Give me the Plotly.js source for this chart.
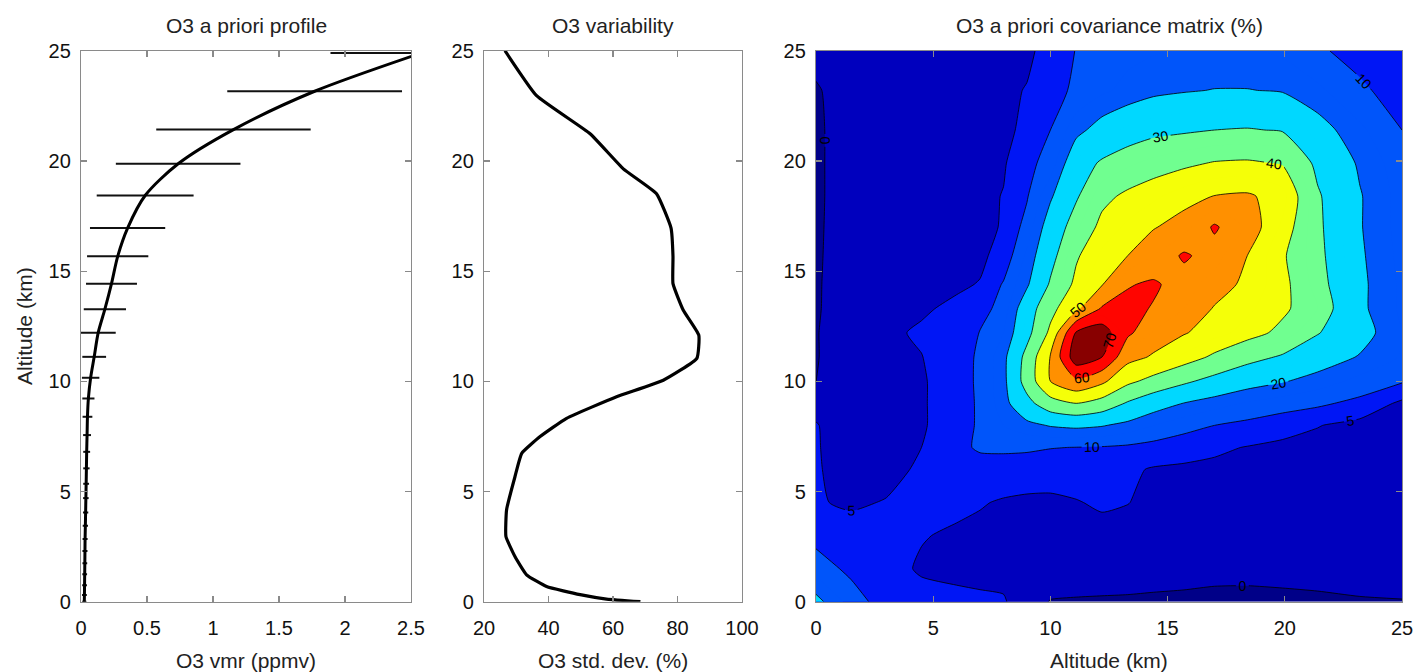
<!DOCTYPE html>
<html><head><meta charset="utf-8">
<script src="https://cdn.plot.ly/plotly-3.0.1.min.js"></script>
<style>html,body{margin:0;padding:0;background:#fff;}#chart{width:1414px;height:672px;}</style>
</head><body><div id="chart"></div>
<script>
// ---- Panel 1: O3 a priori profile ----
const profAlt = [24.9, 23.16, 21.42, 19.87, 18.43, 16.95, 15.67, 14.43, 13.27, 12.2, 11.11, 10.16, 9.22, 8.39, 7.56, 6.8, 6.05, 5.35, 4.7, 4.05, 3.45, 2.85, 2.3, 1.75, 1.25, 0.75, 0.3, 0];
const profVmr = [2.58, 1.77, 1.155, 0.736, 0.486, 0.353, 0.278, 0.231, 0.181, 0.13, 0.10, 0.073, 0.056, 0.049, 0.046, 0.043, 0.041, 0.039, 0.037, 0.035, 0.033, 0.031, 0.03, 0.029, 0.028, 0.027, 0.026, 0.025];
const profErr = [0.69, 0.662, 0.585, 0.472, 0.367, 0.285, 0.232, 0.193, 0.16, 0.133, 0.09, 0.066, 0.046, 0.037, 0.03, 0.026, 0.024, 0.022, 0.021, 0.02, 0.02, 0.019, 0.019, 0.018, 0.018, 0.018, 0.018, 0.016];

// ---- Panel 2: O3 variability ----
const varAlt = [25, 22.96, 21.23, 19.64, 18.51, 16.95, 15.67, 14.43, 13.22, 12.09, 11.04, 10.05, 9.3, 8.32, 7.49, 6.73, 5.67, 4.17, 2.96, 2.05, 1.22, 0.69, 0.32, 0.12, 0];
const varStd = [26.5, 36.3, 52.9, 63.2, 73.5, 78.0, 78.6, 78.6, 81.8, 86.6, 86.0, 75.6, 61.1, 45.6, 37.4, 31.7, 29.6, 27.0, 26.8, 29.6, 33.2, 39.4, 49.8, 58, 68.5];

// ---- Panel 3: covariance matrix (%) ----
const covAlt = [0, 1.5, 3, 4.5, 6, 7, 8, 9, 10, 11.1, 12.2, 13.3, 14.4, 15.7, 17, 18.4, 19.9, 21.4, 23.2, 25];
const covZ = [
  [22, 13, 7, 6.2, 6, 5.8, 5.5, 2.0, -0.2, -0.4, -0.5, -0.6, -0.8, -1.0, -1.4, -1.5, -1.2, -0.9, -0.4, -0.2],
  [13, 8.5, 6.2, 4.6, 4.0, 3.6, 3.3, 3.0, 2.8, 2.5, 2.3, 2.2, 2.0, 1.8, 1.6, 1.6, 1.7, 1.9, 2.1, 2.3],
  [8, 6.5, 5.8, 5.2, 4.5, 4.0, 3.7, 3.5, 3.5, 3.6, 3.8, 3.5, 3.2, 3.0, 2.8, 2.6, 2.5, 2.4, 2.3, 2.1],
  [5.3, 4.5, 5.2, 6.0, 5.8, 5.3, 4.6, 4.2, 4.2, 4.8, 5.5, 5.1, 4.0, 3.5, 3.2, 3.0, 2.8, 2.6, 2.4, 2.2],
  [5.4, 3.2, 3.8, 5.6, 7.2, 7.5, 7.5, 7.3, 7.0, 6.8, 6.5, 5.8, 4.6, 4.3, 4.0, 3.6, 3.3, 3.0, 2.8, 2.6],
  [5.3, 3.0, 3.3, 5.0, 8.5, 10.8, 11.0, 10.8, 10.2, 9.9, 9.6, 9.0, 8.0, 6.8, 5.8, 4.8, 4.0, 3.5, 3.0, 2.8],
  [5.2, 3.0, 3.4, 4.5, 7.5, 10.8, 15, 18, 20.5, 21.5, 20.5, 18, 15, 12, 10, 8.5, 6.8, 5.2, 3.5, 3.0],
  [4, 2.8, 3.5, 4.5, 7.5, 10.8, 17.5, 27, 36, 40, 36, 29, 23.5, 19.8, 17, 14.5, 12.5, 11, 8.5, 4],
  [-0.2, 3, 3.8, 4.5, 7.5, 11, 18, 34, 50, 58, 52, 42, 37, 31.5, 27, 23, 20.5, 17.5, 13.5, 10.5],
  [-0.3, 3, 3.8, 4.9, 7.2, 11, 18, 33, 50.5, 76, 70, 53, 49, 44, 38.5, 33, 29, 24, 19.5, 14.5],
  [-0.3, 3.2, 4.3, 5.5, 7.5, 10.2, 15, 27, 42, 71, 75, 61.5, 54.5, 50.5, 47, 43, 38, 30.5, 23, 15],
  [-0.5, 2.8, 3.5, 4.5, 5.8, 7.5, 12.5, 25, 37, 48, 61, 62, 59.5, 55, 49.5, 46, 41.5, 35, 21.5, 14],
  [-0.5, 2.5, 3.0, 3.6, 4.4, 5.2, 10.5, 19, 31, 42, 49.5, 59.5, 61, 57, 53, 48.5, 42, 33, 21.5, 14],
  [-0.5, 2, 2.7, 3.2, 3.8, 4.2, 6.5, 16, 27, 39, 46, 50, 55, 61, 57, 50, 41, 32, 21, 13.5],
  [-0.5, 1.7, 2.4, 3, 3.5, 4.0, 5.3, 12, 24, 34, 42, 46, 49.5, 53, 61, 54, 44, 31.5, 20.5, 13],
  [-0.5, 1.5, 2.2, 2.8, 3.3, 3.8, 5.2, 9.5, 19, 29, 38, 41.5, 44, 47.5, 50.2, 51, 47, 31, 20.5, 13],
  [-0.5, 1.5, 2, 2.5, 3, 3.6, 4.5, 8.5, 12, 26, 31, 34, 36.5, 38.5, 40.5, 41, 39.5, 28, 19, 12],
  [-0.5, 1.5, 2, 2.5, 3, 3.6, 4.0, 6.0, 10, 18, 23, 26, 28, 29, 30, 30.5, 29.5, 23, 16, 10],
  [-0.3, 1.5, 2, 2.5, 3, 3.5, 4.2, 5.2, 8, 11, 14, 16.5, 18.5, 19.5, 20.2, 20.2, 19.5, 16, 11, 7.5],
  [1, 1.5, 2, 2.5, 3, 3.5, 4, 4.2, 6.5, 10.2, 12, 13.5, 14.5, 15.2, 15.5, 15.5, 14, 10.8, 8.0, 6.5]
];

const FONT = 'Liberation Sans, Arial, Helvetica, sans-serif';

// stepped jet-like colours for the bands <0,0-5,5-10,10-20,20-30,30-40,40-50,50-60,60-70,>70
const bandColors = ['#000088', '#0000BE', '#0016F5', '#0055FA', '#00D8FF', '#70FF90', '#F5FF08', '#FF9000', '#FF0500', '#880000'];
const bandEdges = [-2.5, 0, 5, 10, 20, 30, 40, 50, 60, 70, 72.5];
const zLo = -2.5, zHi = 72.5;
const colorscale = [];
for (let i = 0; i < bandColors.length; i++) {
  const a = (bandEdges[i] - zLo) / (zHi - zLo), b = (bandEdges[i + 1] - zLo) / (zHi - zLo);
  colorscale.push([a, bandColors[i]]);
  colorscale.push([b, bandColors[i]]);
}

const SMOOTH = 0.6;
const traces = [
  {
    type: 'scatter', mode: 'lines', x: profVmr, y: profAlt, xaxis: 'x', yaxis: 'y',
    line: {color: '#000', width: 3, shape: 'spline', smoothing: 0.8},
    error_x: {type: 'data', array: profErr, symmetric: true, width: 0, thickness: 2, color: '#111'},
    hoverinfo: 'skip'
  },
  {
    type: 'scatter', mode: 'lines', x: varStd, y: varAlt, xaxis: 'x2', yaxis: 'y2',
    line: {color: '#000', width: 3.2, shape: 'spline', smoothing: 0.4}, hoverinfo: 'skip'
  },
  {
    type: 'contour', x: covAlt, y: covAlt, z: covZ, xaxis: 'x3', yaxis: 'y3',
    autocontour: false, zauto: false, zmin: zLo, zmax: zHi,
    contours: {start: 0, end: 70, size: 5, coloring: 'fill', showlines: false},
    colorscale: colorscale, showscale: false, line: {width: 0, smoothing: SMOOTH}, hoverinfo: 'skip'
  },
  {
    type: 'contour', x: covAlt, y: covAlt, z: covZ, xaxis: 'x3', yaxis: 'y3',
    autocontour: false,
    contours: {start: 10, end: 70, size: 10, coloring: 'none', showlines: true, showlabels: true,
      labelfont: {family: FONT, size: 14, color: '#000'}, labelformat: 'd'},
    line: {color: '#000', width: 0.8, smoothing: SMOOTH}, showscale: false, hoverinfo: 'skip'
  },
  {
    type: 'contour', x: covAlt, y: covAlt, z: covZ, xaxis: 'x3', yaxis: 'y3',
    autocontour: false,
    contours: {start: 0, end: 5, size: 5, coloring: 'none', showlines: true, showlabels: true,
      labelfont: {family: FONT, size: 14, color: '#000'}, labelformat: 'd'},
    line: {color: '#000', width: 0.8, smoothing: SMOOTH}, showscale: false, hoverinfo: 'skip'
  }
];

const W = 1414, H = 672;
const yDom = [1 - 601.7 / H, 1 - 50.7 / H];
function ax(extra) {
  return Object.assign({
    showline: true, linecolor: '#8a8a8a', linewidth: 1.2, mirror: 'ticks',
    ticks: 'inside', ticklen: 6, tickwidth: 1.2, tickcolor: '#8a8a8a',
    showgrid: false, zeroline: false, fixedrange: true,
    tickfont: {family: FONT, size: 20, color: '#111'}
  }, extra);
}
const xLab = {ticklabelstandoff: 8};
const yLab = {ticklabelstandoff: 5};

const p1 = [81, 411], p2 = [484, 742], p3 = [816, 1402];
const layout = {
  width: W, height: H, margin: {l: 0, r: 0, t: 0, b: 0},
  paper_bgcolor: '#fff', plot_bgcolor: '#fff', showlegend: false,
  font: {family: FONT},
  xaxis: ax(Object.assign({domain: [p1[0] / W, p1[1] / W], range: [0, 2.5], tickvals: [0, 0.5, 1, 1.5, 2, 2.5], anchor: 'y'}, xLab)),
  yaxis: ax(Object.assign({domain: yDom, range: [0, 25], tickvals: [0, 5, 10, 15, 20, 25], anchor: 'x'}, yLab)),
  xaxis2: ax(Object.assign({domain: [p2[0] / W, p2[1] / W], range: [20, 100], tickvals: [20, 40, 60, 80, 100], anchor: 'y2'}, xLab)),
  yaxis2: ax(Object.assign({domain: yDom, range: [0, 25], tickvals: [0, 5, 10, 15, 20, 25], anchor: 'x2'}, yLab)),
  xaxis3: ax(Object.assign({domain: [p3[0] / W, p3[1] / W], range: [0, 25], tickvals: [0, 5, 10, 15, 20, 25], anchor: 'y3'}, xLab)),
  yaxis3: ax(Object.assign({domain: yDom, range: [0, 25], tickvals: [0, 5, 10, 15, 20, 25], anchor: 'x3'}, yLab)),
  annotations: [
    {text: 'O3 a priori profile', x: (p1[0] + p1[1]) / 2 / W, y: 1 - 26 / H},
    {text: 'O3 variability', x: (p2[0] + p2[1]) / 2 / W, y: 1 - 26 / H},
    {text: 'O3 a priori covariance matrix (%)', x: (p3[0] + p3[1]) / 2 / W, y: 1 - 26 / H},
    {text: 'O3 vmr (ppmv)', x: (p1[0] + p1[1]) / 2 / W, y: 1 - 660 / H},
    {text: 'O3 std. dev. (%)', x: (p2[0] + p2[1]) / 2 / W, y: 1 - 660 / H},
    {text: 'Altitude (km)', x: (p3[0] + p3[1]) / 2 / W, y: 1 - 660 / H},
    {text: 'Altitude (km)', x: 24 / W, y: 1 - 326 / H, textangle: -90}
  ].map(a => Object.assign({xref: 'paper', yref: 'paper', showarrow: false, xanchor: 'center', yanchor: 'middle',
    font: {family: FONT, size: 21, color: '#222'}}, a))
};

Plotly.newPlot('chart', traces, layout, {displayModeBar: false, staticPlot: true});
</script>
</body></html>
